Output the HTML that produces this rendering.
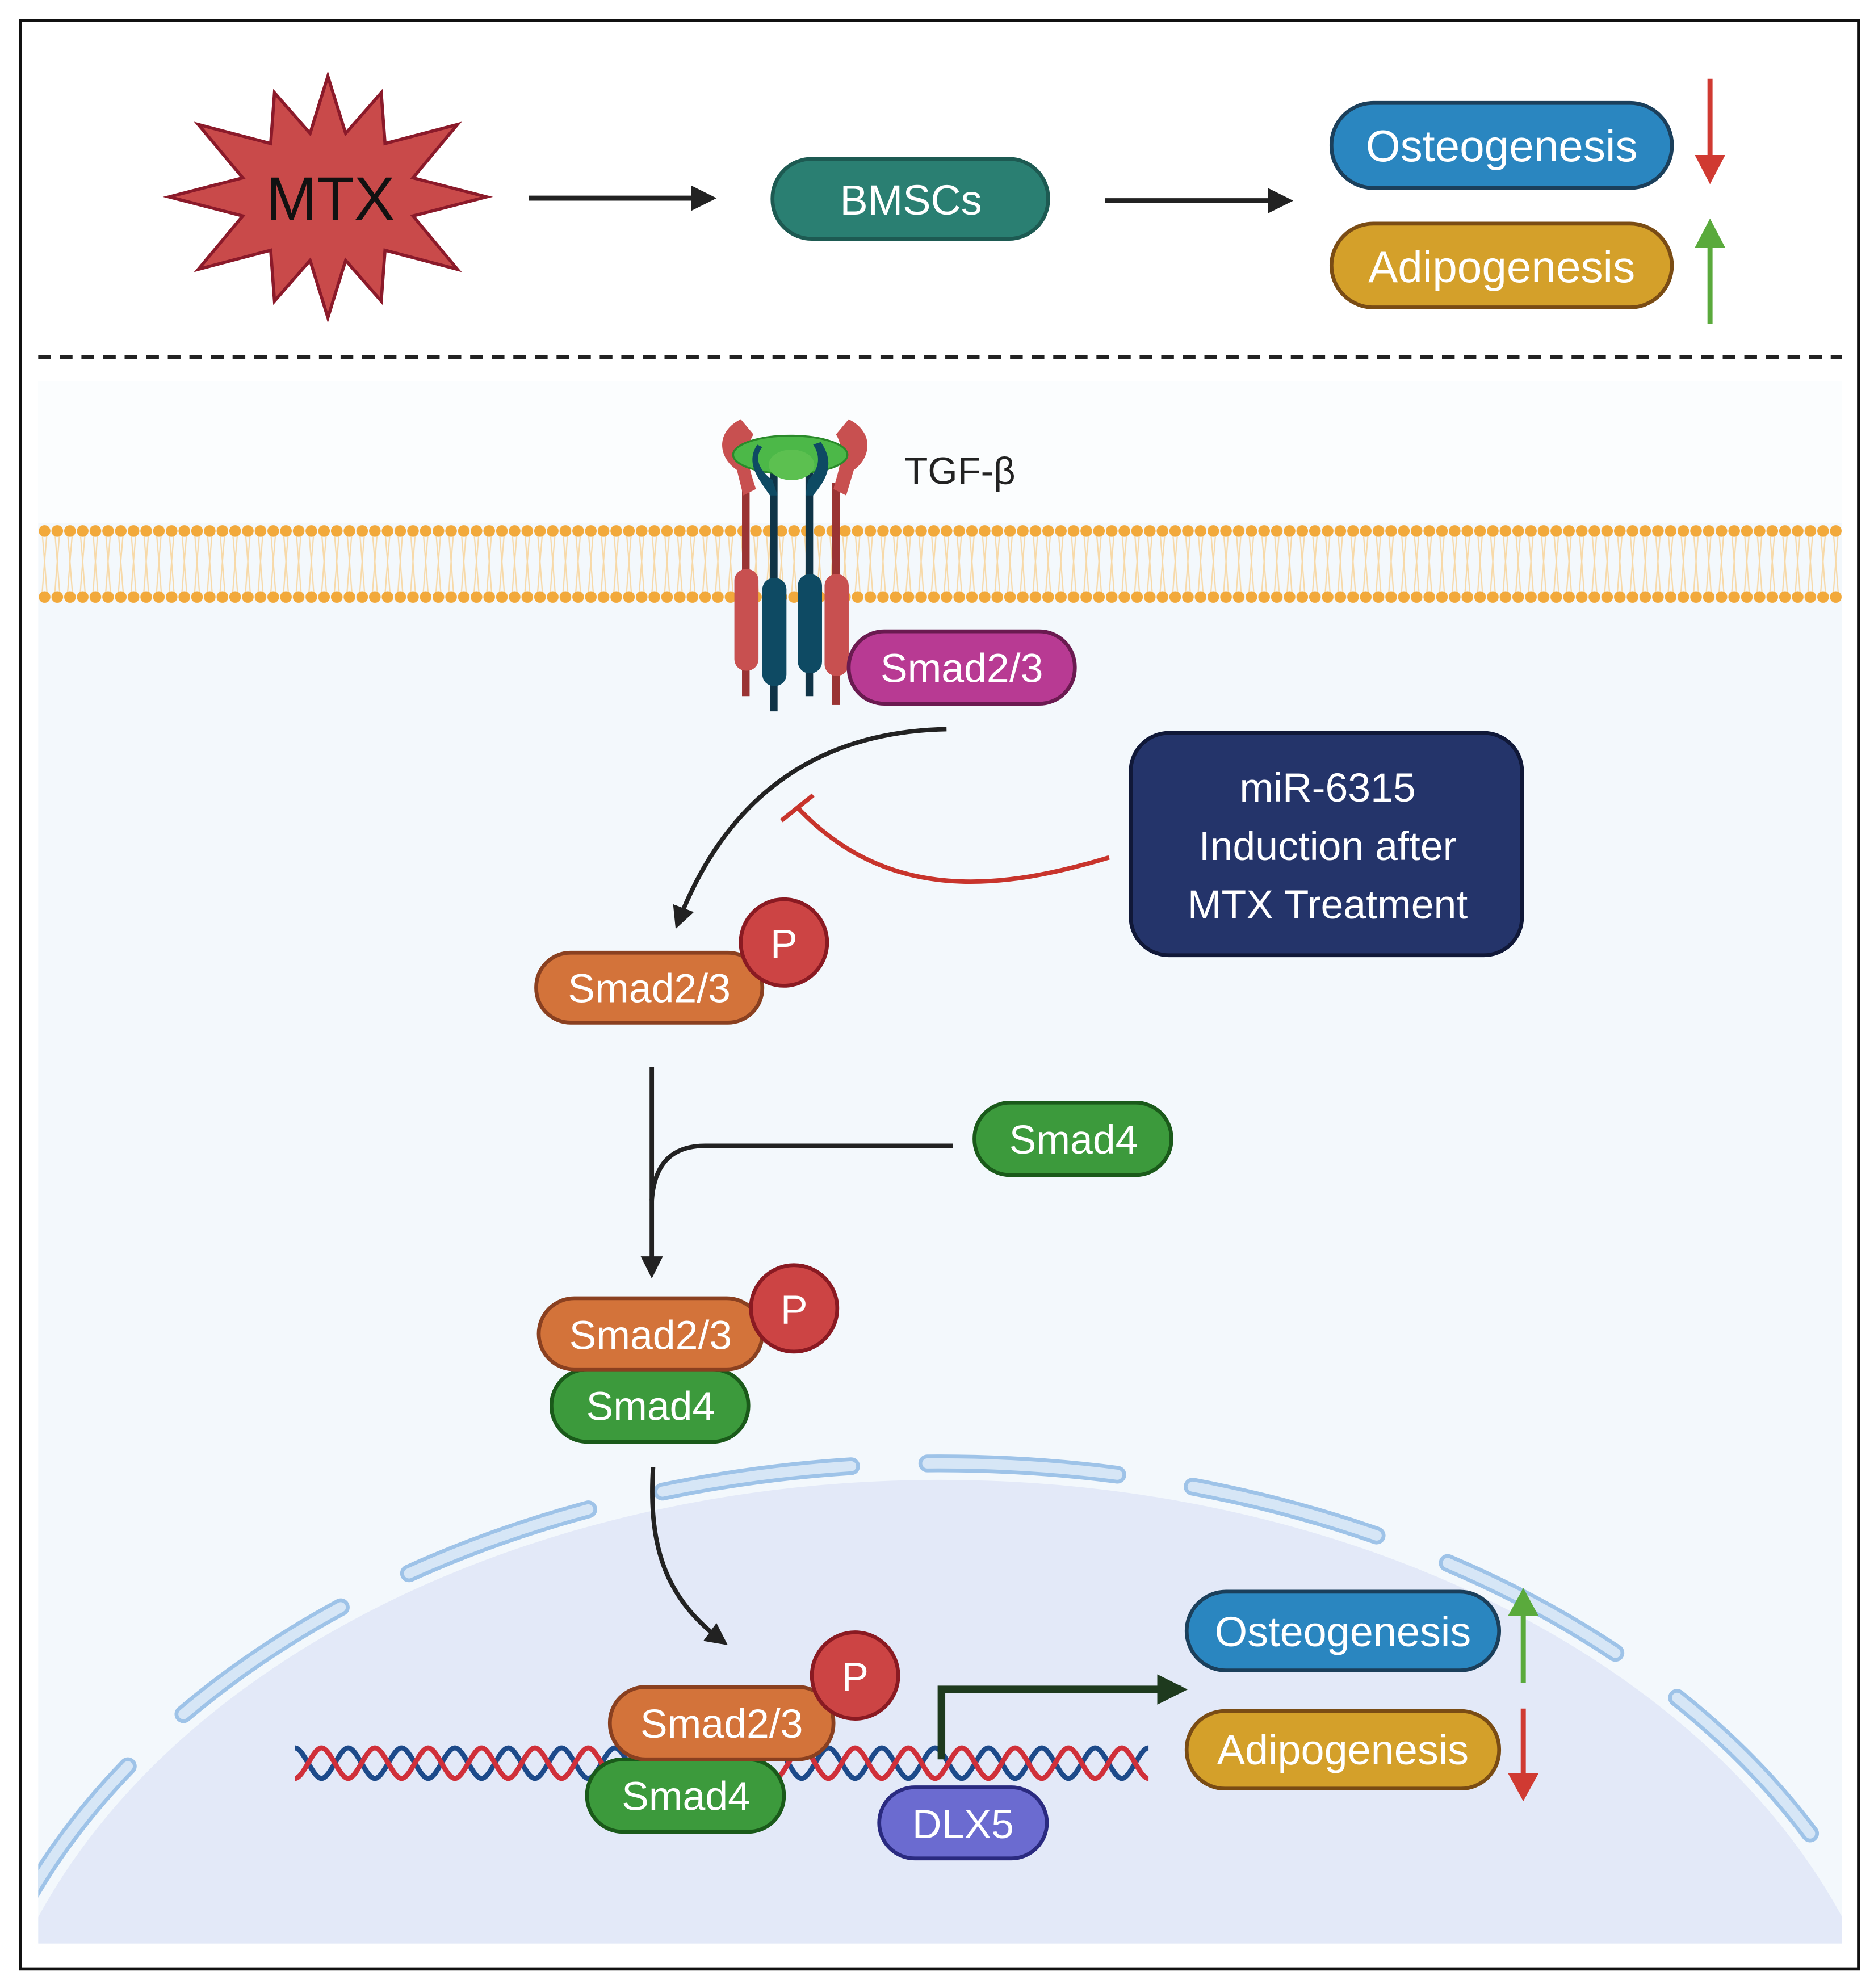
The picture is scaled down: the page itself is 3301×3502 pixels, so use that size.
<!DOCTYPE html>
<html><head><meta charset="utf-8"><style>
html,body{margin:0;padding:0;background:#fff;width:3301px;height:3502px;overflow:hidden}
svg{display:block}
text{font-family:"Liberation Sans",sans-serif}
</style></head><body>
<svg width="3301" height="3502" viewBox="0 0 1475 1565" xmlns="http://www.w3.org/2000/svg">
<defs>
<marker id="ah" viewBox="0 0 10 10" refX="8" refY="5" markerWidth="5" markerHeight="5" orient="auto"><path d="M0,0 L10,5 L0,10 z" fill="#222"/></marker>
<marker id="ahg" viewBox="0 0 10 10" refX="8" refY="5" markerWidth="4" markerHeight="4" orient="auto"><path d="M0,0 L10,5 L0,10 z" fill="#1e3a1e"/></marker>
<pattern id="mem" x="30" y="412" width="10" height="64" patternUnits="userSpaceOnUse">
<path d="M3,6 L5,30 L3,56 M7,6 L5,30 L7,56" stroke="#f7d9a8" stroke-width="1" fill="none"/>
<circle cx="5" cy="6" r="4.6" fill="#f2a93b"/>
<circle cx="5" cy="58" r="4.6" fill="#f2a93b"/>
</pattern>
<clipPath id="cl"><rect x="30" y="300" width="1420" height="1230"/></clipPath>
</defs>
<rect x="0" y="0" width="1475" height="1565" fill="#fff"/>
<rect x="30" y="300" width="1420" height="1230" fill="#f3f8fc"/>
<rect x="30" y="300" width="1420" height="112" fill="#fbfdfe"/>
<g clip-path="url(#cl)">
<ellipse cx="740" cy="1700" rx="760" ry="535" fill="#e3e9f8"/>
<ellipse cx="740" cy="1700" rx="775" ry="548" fill="none" stroke="#9ec3e8" stroke-width="14" stroke-dasharray="150 60" stroke-dashoffset="20" stroke-linecap="round"/>
<ellipse cx="740" cy="1700" rx="775" ry="548" fill="none" stroke="#d6e6f6" stroke-width="8" stroke-dasharray="150 60" stroke-dashoffset="20" stroke-linecap="round"/>
</g>
<rect x="30" y="412" width="1420" height="64" fill="url(#mem)"/>
<rect x="16" y="16" width="1447" height="1534" fill="none" stroke="#111" stroke-width="2.5"/>
<line x1="30" y1="281" x2="1450" y2="281" stroke="#222" stroke-width="3" stroke-dasharray="10 7"/>

<polygon fill="#c94a4a" stroke="#8b1a2a" stroke-width="2.5" points="
383,155 325,170 360,212 303,197 300,237 272,205 258,250 244,205 216,237 213,197 156,212 191,170 133,155 191,140 156,98 213,113 216,73 244,105 258,60 272,105 300,73 303,113 360,98 325,140"/>
<text x="260" y="173" font-size="48" text-anchor="middle" fill="#111">MTX</text>
<line x1="416" y1="156" x2="560" y2="156" stroke="#222" stroke-width="4" marker-end="url(#ah)"/>
<rect x="608" y="125" width="217" height="63" rx="31" fill="#2a7f72" stroke="#1d5a52" stroke-width="3"/>
<text x="717" y="169" font-size="33" text-anchor="middle" fill="#fff">BMSCs</text>
<line x1="870" y1="158" x2="1014" y2="158" stroke="#222" stroke-width="4" marker-end="url(#ah)"/>
<rect x="1048" y="81" width="268" height="67" rx="33" fill="#2a86c0" stroke="#1b3f5b" stroke-width="3"/>
<text x="1182" y="127" font-size="35" text-anchor="middle" fill="#fff">Osteogenesis</text>
<rect x="1048" y="176" width="268" height="66" rx="33" fill="#d4a02a" stroke="#7a4c14" stroke-width="3"/>
<text x="1182" y="222" font-size="35" text-anchor="middle" fill="#fff">Adipogenesis</text>
<line x1="1346" y1="62" x2="1346" y2="125" stroke="#d03a32" stroke-width="4"/><polygon points="1334,122 1358,122 1346,145" fill="#d03a32"/>
<line x1="1346" y1="255" x2="1346" y2="192" stroke="#5aaa3c" stroke-width="4"/><polygon points="1334,195 1358,195 1346,172" fill="#5aaa3c"/>

<g>
<rect x="584" y="380" width="6" height="168" fill="#9a3434"/>
<rect x="655" y="380" width="6" height="175" fill="#9a3434"/>
<rect x="606" y="370" width="6" height="190" fill="#0f3447"/>
<rect x="634" y="370" width="6" height="178" fill="#0f3447"/>
<rect x="578" y="448" width="19" height="80" rx="9" fill="#c85050"/>
<rect x="649" y="452" width="19" height="80" rx="9" fill="#c85050"/>
<rect x="600" y="455" width="19" height="85" rx="9" fill="#0e4a63"/>
<rect x="628" y="452" width="19" height="78" rx="9" fill="#0e4a63"/>
<path d="M583,330 C563,340 565,360 580,370 L585,390 L595,385 C590,370 585,355 593,342 Z" fill="#c85050"/>
<path d="M668,330 C688,340 686,360 672,370 L666,390 L656,385 C660,370 666,355 658,342 Z" fill="#c85050"/>
<ellipse cx="622" cy="358" rx="45" ry="15" fill="#4cb848" stroke="#2a8a2a" stroke-width="1.5"/>
<path d="M600,352 C592,362 600,372 608,378 L612,390 L606,390 C598,378 586,365 596,350 Z" fill="#0e4a63"/>
<path d="M640,350 C648,362 642,372 636,378 L634,390 L640,390 C650,378 658,365 646,348 Z" fill="#0e4a63"/>
<ellipse cx="623" cy="366" rx="18" ry="12" fill="#5cc050"/>
</g>
<text x="712" y="381" font-size="30" fill="#222">TGF-β</text>

<rect x="668" y="497" width="178" height="57" rx="28" fill="#b83a93" stroke="#6a1a50" stroke-width="3"/>
<text x="757" y="537" font-size="32" text-anchor="middle" fill="#fff">Smad2/3</text>

<path d="M745,574 C640,576 570,630 533,728" fill="none" stroke="#222" stroke-width="3.5" marker-end="url(#ah)"/>
<path d="M873,675 C790,700 700,712 628,636" fill="none" stroke="#c8342c" stroke-width="3.5"/>
<line x1="615" y1="646" x2="640" y2="626" stroke="#c8342c" stroke-width="3.5"/>

<rect x="890" y="577" width="308" height="175" rx="30" fill="#24346a" stroke="#101838" stroke-width="3"/>
<text x="1045" y="631" font-size="32" text-anchor="middle" fill="#fff">miR-6315</text>
<text x="1045" y="677" font-size="32" text-anchor="middle" fill="#fff">Induction after</text>
<text x="1045" y="723" font-size="32" text-anchor="middle" fill="#fff">MTX Treatment</text>

<rect x="422" y="750" width="178" height="55" rx="27" fill="#d3733a" stroke="#8a4020" stroke-width="3"/>
<text x="511" y="789" font-size="32" text-anchor="middle" fill="#fff">Smad2/3</text>
<circle cx="617" cy="742" r="34" fill="#cc4444" stroke="#8a1a22" stroke-width="3"/>
<text x="617" y="754" font-size="32" text-anchor="middle" fill="#fff">P</text>

<line x1="513" y1="840" x2="513" y2="1003" stroke="#222" stroke-width="3.5" marker-end="url(#ah)"/>
<path d="M750,902 L555,902 C530,902 515,915 513,945" fill="none" stroke="#222" stroke-width="3.5"/>
<rect x="767" y="868" width="155" height="57" rx="28" fill="#3c9a3c" stroke="#1a5a1a" stroke-width="3"/>
<text x="845" y="908" font-size="32" text-anchor="middle" fill="#fff">Smad4</text>

<rect x="434" y="1078" width="155" height="57" rx="28" fill="#3c9a3c" stroke="#1a5a1a" stroke-width="3"/>
<text x="512" y="1118" font-size="32" text-anchor="middle" fill="#fff">Smad4</text>
<rect x="424" y="1022" width="176" height="56" rx="28" fill="#d3733a" stroke="#8a4020" stroke-width="3"/>
<text x="512" y="1062" font-size="32" text-anchor="middle" fill="#fff">Smad2/3</text>
<circle cx="625" cy="1030" r="34" fill="#cc4444" stroke="#8a1a22" stroke-width="3"/>
<text x="625" y="1042" font-size="32" text-anchor="middle" fill="#fff">P</text>

<path d="M514,1155 C510,1220 525,1260 570,1293" fill="none" stroke="#222" stroke-width="3.5" marker-end="url(#ah)"/>

<path d="M232,1376 c7,0 14,24 21,24 c7,0 14,-24 21,-24 c7,0 14,24 21,24 c7,0 14,-24 21,-24 c7,0 14,24 21,24 c7,0 14,-24 21,-24 c7,0 14,24 21,24 c7,0 14,-24 21,-24 c7,0 14,24 21,24 c7,0 14,-24 21,-24 c7,0 14,24 21,24 c7,0 14,-24 21,-24 c7,0 14,24 21,24 c7,0 14,-24 21,-24 c7,0 14,24 21,24 c7,0 14,-24 21,-24 c7,0 14,24 21,24 c7,0 14,-24 21,-24 c7,0 14,24 21,24 c7,0 14,-24 21,-24 c7,0 14,24 21,24 c7,0 14,-24 21,-24 c7,0 14,24 21,24 c7,0 14,-24 21,-24 c7,0 14,24 21,24 c7,0 14,-24 21,-24 c7,0 14,24 21,24 c7,0 14,-24 21,-24 c7,0 14,24 21,24 c7,0 14,-24 21,-24 c7,0 14,24 21,24 c7,0 14,-24 21,-24" fill="none" stroke="#1d4a8a" stroke-width="4"/>
<path d="M232,1400 c7,0 14,-24 21,-24 c7,0 14,24 21,24 c7,0 14,-24 21,-24 c7,0 14,24 21,24 c7,0 14,-24 21,-24 c7,0 14,24 21,24 c7,0 14,-24 21,-24 c7,0 14,24 21,24 c7,0 14,-24 21,-24 c7,0 14,24 21,24 c7,0 14,-24 21,-24 c7,0 14,24 21,24 c7,0 14,-24 21,-24 c7,0 14,24 21,24 c7,0 14,-24 21,-24 c7,0 14,24 21,24 c7,0 14,-24 21,-24 c7,0 14,24 21,24 c7,0 14,-24 21,-24 c7,0 14,24 21,24 c7,0 14,-24 21,-24 c7,0 14,24 21,24 c7,0 14,-24 21,-24 c7,0 14,24 21,24 c7,0 14,-24 21,-24 c7,0 14,24 21,24 c7,0 14,-24 21,-24 c7,0 14,24 21,24 c7,0 14,-24 21,-24 c7,0 14,24 21,24 c7,0 14,-24 21,-24 c7,0 14,24 21,24" fill="none" stroke="#d0303a" stroke-width="4"/>

<path d="M741,1385 L741,1330 L930,1330" fill="none" stroke="#1e3a1e" stroke-width="6" marker-end="url(#ahg)"/>

<rect x="462" y="1385" width="155" height="57" rx="28" fill="#3c9a3c" stroke="#1a5a1a" stroke-width="3"/>
<text x="540" y="1425" font-size="32" text-anchor="middle" fill="#fff">Smad4</text>
<rect x="480" y="1328" width="176" height="57" rx="28" fill="#d3733a" stroke="#8a4020" stroke-width="3"/>
<text x="568" y="1368" font-size="32" text-anchor="middle" fill="#fff">Smad2/3</text>
<circle cx="673" cy="1319" r="34" fill="#cc4444" stroke="#8a1a22" stroke-width="3"/>
<text x="673" y="1331" font-size="32" text-anchor="middle" fill="#fff">P</text>

<rect x="692" y="1407" width="132" height="56" rx="28" fill="#6b6bd0" stroke="#2a2a80" stroke-width="3"/>
<text x="758" y="1447" font-size="32" text-anchor="middle" fill="#fff">DLX5</text>

<rect x="934" y="1253" width="246" height="62" rx="31" fill="#2a86c0" stroke="#1b3f5b" stroke-width="3"/>
<text x="1057" y="1296" font-size="33" text-anchor="middle" fill="#fff">Osteogenesis</text>
<rect x="934" y="1347" width="246" height="61" rx="30" fill="#d4a02a" stroke="#7a4c14" stroke-width="3"/>
<text x="1057" y="1389" font-size="33" text-anchor="middle" fill="#fff">Adipogenesis</text>
<line x1="1199" y1="1325" x2="1199" y2="1268" stroke="#5aaa3c" stroke-width="4"/><polygon points="1187,1272 1211,1272 1199,1250" fill="#5aaa3c"/>
<line x1="1199" y1="1345" x2="1199" y2="1400" stroke="#d03a32" stroke-width="4"/><polygon points="1187,1396 1211,1396 1199,1418" fill="#d03a32"/>
</svg>
</body></html>
